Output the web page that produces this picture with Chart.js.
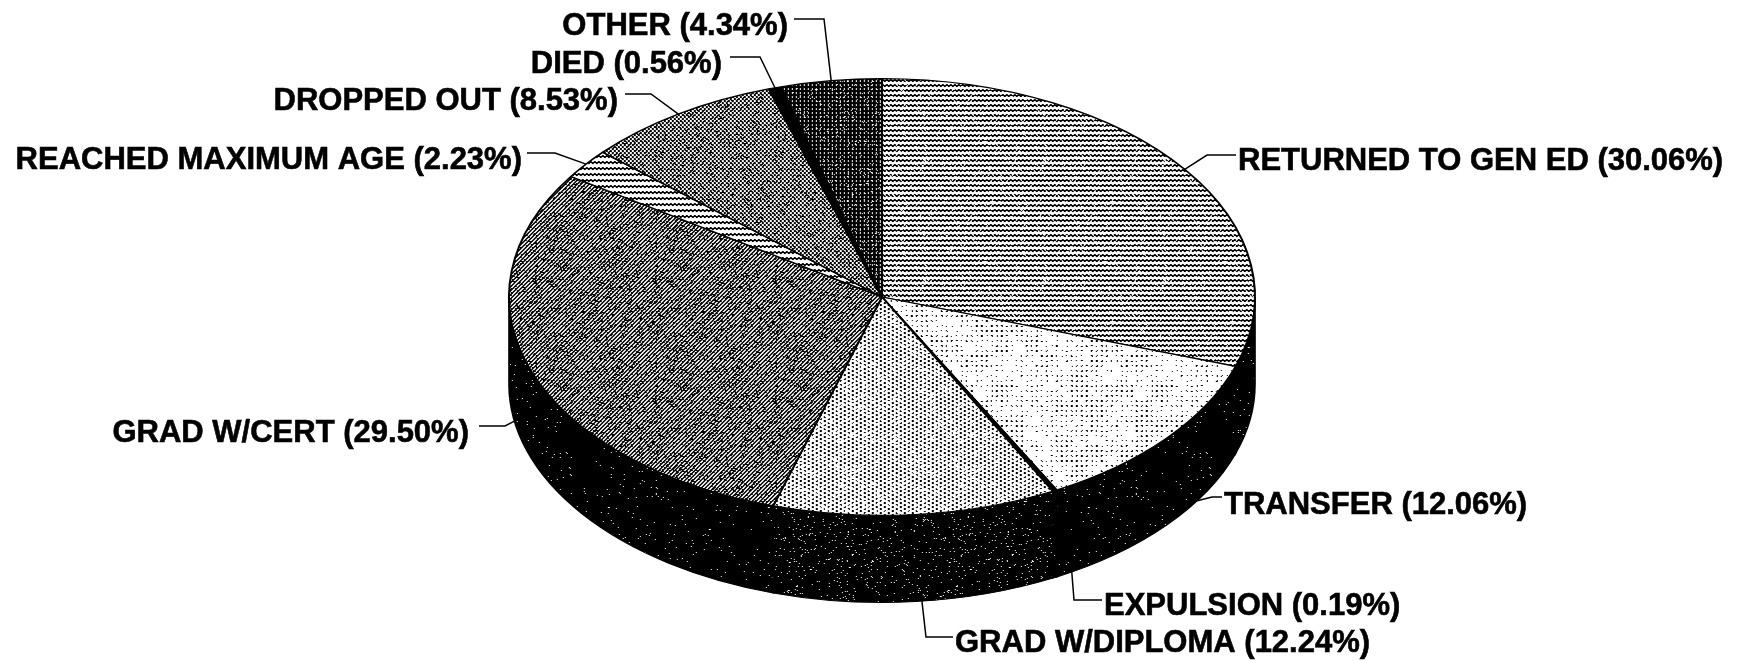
<!DOCTYPE html>
<html>
<head>
<meta charset="utf-8">
<style>
  html, body { margin: 0; background: #fff; }
  canvas { display: block; }
</style>
<script src="https://cdn.jsdelivr.net/npm/chart.js@4"></script>
</head>
<body>
<canvas id="exit-chart" width="1740" height="661"></canvas>
<script>
const categories = ['RETURNED TO GEN ED', 'TRANSFER', 'EXPULSION', 'GRAD W/DIPLOMA', 'GRAD W/CERT',
  'REACHED MAXIMUM AGE', 'DROPPED OUT', 'DIED', 'OTHER'];
const percents = [30.06, 12.06, 0.19, 12.24, 29.50, 2.23, 8.53, 0.56, 4.34];

// the pie is drawn round with radius 219 and stretched sideways to look tilted
const stretch = 374 / 219;
const depth = 87;

// text spot, where the leader leaves the text, its bend, and a nudge of the end point in degrees
const labelPlaces = [
  { x: 1238, y: 161, align: 'left', from: [1236, 155], bend: [1207, 155], nudge: 0 },
  { x: 1224, y: 505, align: 'left', from: [1222, 497], bend: [1212, 497], nudge: -8, side: true },
  { x: 1104, y: 606, align: 'left', from: [1102, 600], bend: [1074, 600], nudge: -3, side: true },
  { x: 955, y: 643, align: 'left', from: [953, 637], bend: [926, 637], nudge: -1, side: true },
  { x: 469, y: 433, align: 'right', from: [479, 426], bend: [505, 426], nudge: 10, side: true },
  { x: 522, y: 160, align: 'right', from: [527, 153], bend: [555, 153], nudge: 0 },
  { x: 618, y: 101, align: 'right', from: [625, 94], bend: [651, 94], nudge: 0 },
  { x: 722, y: 64, align: 'right', from: [730, 57], bend: [760, 57], nudge: 0 },
  { x: 788, y: 26, align: 'right', from: [794, 19], bend: [824, 19], nudge: 0 }
];

const canvas = document.getElementById('exit-chart');
const ctx = canvas.getContext('2d');

function hash(x, y) {
  let h = (x * 374761 + y * 668265) | 0;
  h = Math.imul(h ^ (h >>> 13), 1274126177);
  return ((h ^ (h >>> 16)) >>> 0) % 100;
}

// build a repeating black and white texture, pixel by pixel
function texture(w, h, isBlack) {
  const tile = document.createElement('canvas');
  tile.width = w;
  tile.height = h;
  const tileCtx = tile.getContext('2d');
  const img = tileCtx.createImageData(w, h);
  for (let y = 0; y < h; y++) {
    for (let x = 0; x < w; x++) {
      const v = isBlack(x, y) ? 0 : 255;
      const i = (y * w + x) * 4;
      img.data[i] = img.data[i + 1] = img.data[i + 2] = v;
      img.data[i + 3] = 255;
    }
  }
  tileCtx.putImageData(img, 0, 0);
  const pattern = ctx.createPattern(tile, 'repeat');
  pattern.setTransform(new DOMMatrix().scale(1 / stretch, 1));
  return pattern;
}

const wave = [0, 0, 1, 1, 0, 0, 1, 1];
const lines = texture(120, 120, (x, y) => (y + wave[x % 8]) % 5 < 2 && hash(x, y) > 4);
const wideLines = texture(120, 120, (x, y) => (y + wave[x % 8]) % 6 < 2);
const diagonal = texture(120, 120, (x, y) => (x + y) % 4 < 2 || hash(x, y) < 18);
const checks = texture(120, 120, (x, y) => ((x >> 1) + (y >> 1)) % 2 === 0 || hash(x, y) < 8);
const darkDots = texture(120, 120, (x, y) => !(x % 4 < 1 && y % 4 < 2) && hash(x, y) > 3);
const lightDots = texture(120, 120, (x, y) => x % 4 < 2 && (y + (x % 8 < 4 ? 0 : 2)) % 4 < 2 && hash(x, y) > 14);
const patchyDots = texture(160, 160, (x, y) => {
  const patch = hash(x >> 4, y >> 4) < 45 ? 72 : 28;
  return x % 5 < 2 && y % 5 < 2 && hash(x, y) < patch;
});
const sideSparse = texture(160, 160, (x, y) => hash(x, y) > 0);
const sideSpeckled = texture(160, 160, (x, y) => hash(x, y) > 2);

const sliceFills = [lines, patchyDots, '#000', lightDots, diagonal, wideLines, checks, '#000', darkDots];
const sideFills = [sideSparse, sideSparse, sideSparse, sideSpeckled, sideSparse, '#000', '#000', '#000', '#000'];

const tiltPlugin = {
  id: 'tilt',
  beforeDatasetsDraw(chart) {
    const c = chart.ctx;
    const arcs = chart.getDatasetMeta(0).data;
    c.save();
    c.translate(arcs[0].x, 0);
    c.scale(stretch, 1);
    c.translate(-arcs[0].x, 0);
    // wall of the pie: only the front half can be seen
    arcs.forEach((arc, i) => {
      const a0 = Math.max(arc.startAngle, 0);
      const a1 = Math.min(arc.endAngle, Math.PI);
      if (a1 <= a0) return;
      c.beginPath();
      c.arc(arc.x, arc.y, arc.outerRadius, a0, a1);
      c.arc(arc.x, arc.y + depth, arc.outerRadius, a1, a0, true);
      c.closePath();
      c.fillStyle = sideFills[i];
      c.strokeStyle = '#000';
      c.lineWidth = 1;
      c.fill();
      c.stroke();
    });
  },
  afterDatasetsDraw(chart) {
    chart.ctx.restore();
  }
};

const labelPlugin = {
  id: 'sliceLabels',
  afterDraw(chart) {
    const c = chart.ctx;
    const arcs = chart.getDatasetMeta(0).data;
    c.save();
    c.font = 'bold 31px "Liberation Sans"';
    c.fillStyle = '#000';
    c.strokeStyle = '#000';
    c.textBaseline = 'middle';
    categories.forEach((name, i) => {
      const place = labelPlaces[i];
      const mid = (arcs[i].startAngle + arcs[i].endAngle) / 2 + place.nudge * Math.PI / 180;
      const endX = arcs[i].x + Math.cos(mid) * arcs[i].outerRadius * stretch;
      const endY = arcs[i].y + Math.sin(mid) * arcs[i].outerRadius + (place.side ? depth : 0);
      c.lineWidth = 1.5;
      c.beginPath();
      c.moveTo(place.from[0], place.from[1]);
      c.lineTo(place.bend[0], place.bend[1]);
      c.lineTo(endX, endY);
      c.stroke();
      c.textAlign = place.align;
      const text = name + ' (' + percents[i].toFixed(2) + '%)';
      c.fillText(text, place.x, place.y);
      // the scan has heavier letters than the plain bold
      c.lineWidth = 0.6;
      c.strokeText(text, place.x, place.y);
    });
    c.restore();
  }
};

new Chart(canvas, {
  type: 'pie',
  data: {
    labels: categories,
    datasets: [{
      data: percents,
      backgroundColor: sliceFills,
      borderColor: '#000',
      borderWidth: 1.2,
      clip: false
    }]
  },
  options: {
    responsive: false,
    animation: false,
    events: [],
    layout: {
      padding: { top: 78, bottom: 145, left: 582, right: 558 }
    },
    plugins: {
      legend: { display: false },
      tooltip: { enabled: false }
    }
  },
  plugins: [tiltPlugin, labelPlugin]
});
</script>
</body>
</html>
